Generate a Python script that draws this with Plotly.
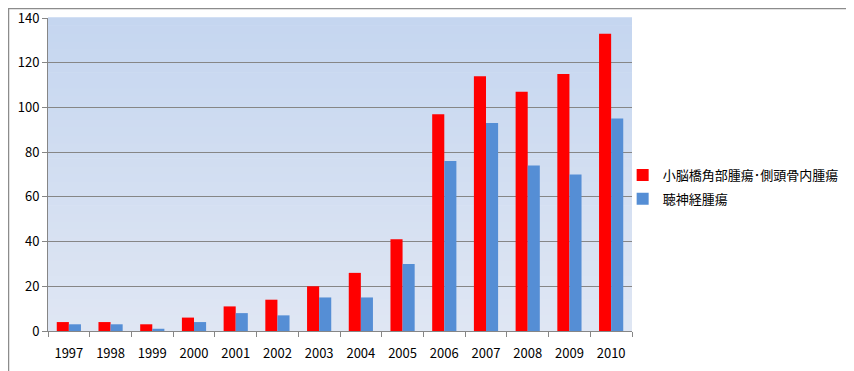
import plotly.graph_objects as go

years = ["1997", "1998", "1999", "2000", "2001", "2002", "2003", "2004",
         "2005", "2006", "2007", "2008", "2009", "2010"]
cpa_tumor = [4, 4, 3, 6, 11, 14, 20, 26, 41, 97, 114, 107, 115, 133]
acoustic_neuroma = [3, 3, 1, 4, 8, 7, 15, 15, 30, 76, 93, 74, 70, 95]
series_names = ["小脳橋角部腫瘍･側頭骨内腫瘍", "聴神経腫瘍"]
y_ticks = [0, 20, 40, 60, 80, 100, 120, 140]

font = "Noto Sans CJK JP"

fig = go.Figure()
fig.add_trace(go.Bar(x=years, y=cpa_tumor, name=series_names[0],
                     legendgroup="a",
                     marker=dict(color="#ff0000", line=dict(width=0))))
fig.add_trace(go.Bar(x=years, y=acoustic_neuroma, name=series_names[1],
                     legendgroup="b",
                     marker=dict(color="#558ed5", line=dict(width=0))))

# figure geometry (the page adds an 8px body margin)
FW, FH = 846, 363
L, T, W, H = 40, 10, 584, 313

# vertical gradient background of the plot area
shapes = []
n = 40
top = (197, 214, 240)
bot = (223, 230, 243)
for i in range(n):
    t = i / (n - 1)
    c = tuple(round(bot[k] + (top[k] - bot[k]) * t) for k in range(3))
    shapes.append(dict(type="rect", xref="x domain", yref="y domain",
                       x0=0, x1=1, y0=i / n, y1=(i + 1) / n + 0.002,
                       fillcolor="rgb(%d,%d,%d)" % c, line=dict(width=0),
                       layer="below"))

def px(fx):
    return (fx - L) / W

def py(fy):
    return (T + H - fy) / H

# chart border (top and left edges)
shapes.append(dict(type="line", xref="paper", yref="paper",
                   x0=px(0), x1=px(FW), y0=py(0.5), y1=py(0.5),
                   line=dict(color="#8c8c8c", width=1.5), layer="below"))
shapes.append(dict(type="line", xref="paper", yref="paper",
                   x0=px(0.5), x1=px(0.5), y0=py(0), y1=py(FH),
                   line=dict(color="#8c8c8c", width=1.5), layer="below"))

fig.update_layout(
    width=FW, height=FH,
    margin=dict(l=L, r=FW - L - W, t=T, b=FH - T - H, autoexpand=False),
    paper_bgcolor="white", plot_bgcolor="rgba(0,0,0,0)",
    barmode="group", bargap=0.42, bargroupgap=0,
    font=dict(family=font, size=13, color="#000000"),
    shapes=shapes,
    legend=dict(x=0.984, y=0.46, xanchor="left", yanchor="middle",
                font=dict(family=font, size=13, color="#000000"),
                traceorder="grouped", tracegroupgap=4, itemwidth=30,
                bgcolor="rgba(0,0,0,0)"),
    showlegend=True,
)
fig.update_xaxes(type="category", showgrid=False, showline=True,
                 linecolor="#868686", linewidth=1, ticks="outside",
                 tickson="boundaries", ticklen=5, tickcolor="#868686",
                 tickfont=dict(family=font, size=13), ticklabelstandoff=10,
                 ticklabeloverflow="allow", automargin=False)
fig.update_yaxes(range=[0, 140], tickvals=y_ticks, showgrid=True,
                 gridcolor="#868686", gridwidth=1, showline=True,
                 linecolor="#868686", linewidth=1, ticks="outside",
                 ticklen=5, tickcolor="#868686", zeroline=False,
                 tickfont=dict(family=font, size=13),
                 ticklabeloverflow="allow", automargin=False)

fig.write_html("out.html")
